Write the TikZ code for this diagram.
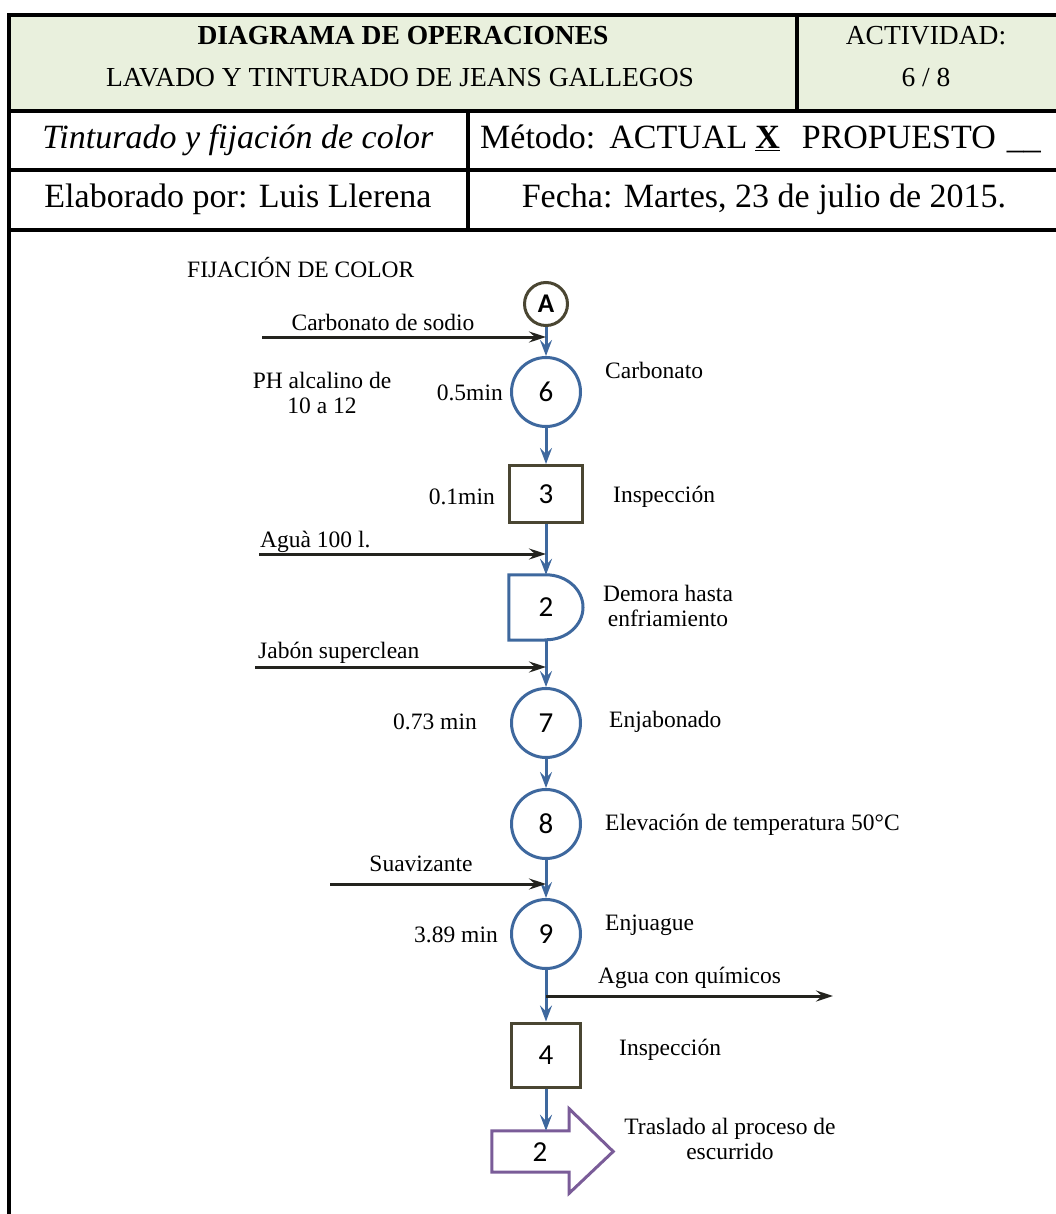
\documentclass[tikz,border=0pt]{standalone}
\usepackage{fontspec}
\setmainfont{Liberation Serif}
\newfontfamily\numfont{Carlito}
\usetikzlibrary{arrows.meta,calc}

\definecolor{flowblue}{RGB}{62,104,158}
\definecolor{olive}{RGB}{74,70,50}
\definecolor{inkdark}{RGB}{35,35,30}
\definecolor{movepurple}{RGB}{122,92,152}
\definecolor{headgreen}{RGB}{233,240,221}

\tikzset{
  tbl/.style={line width=4pt, black},
  hdrA/.style={font=\fontsize{27.5}{31}\selectfont, inner sep=0pt},
  hdrB/.style={font=\fontsize{34}{38}\selectfont, inner sep=0pt},
  lbl/.style={font=\fontsize{23.5}{25}\selectfont, inner sep=0pt, align=center},
  opcirc/.style={circle, draw=flowblue, line width=3pt, minimum size=69pt, inner sep=0pt,
                 font=\numfont\fontsize{29}{29}\selectfont},
  conncirc/.style={circle, draw=olive, line width=3pt, minimum size=43pt, inner sep=0pt,
                 font=\numfont\bfseries\fontsize{27}{27}\selectfont},
  inspbox/.style={rectangle, draw=olive, line width=3pt, inner sep=0pt,
                 font=\numfont\fontsize{29}{29}\selectfont},
  delaybox/.style={rectangle, minimum width=74pt, minimum height=65pt, inner sep=0pt,
                 font=\numfont\fontsize{29}{29}\selectfont},
  flow/.style={draw=flowblue, line width=3pt, -{Stealth[length=16pt,width=12pt,inset=6pt]}},
  feed/.style={draw=inkdark, line width=3pt, -{Stealth[length=17pt,width=11pt,inset=6pt]}},
}

\begin{document}
\begin{tikzpicture}[x=1pt,y=1pt]
\useasboundingbox (0,0) rectangle (1056,-1214);

% ---- header table ----
\fill[headgreen] (9,-15.5) rectangle (1056,-111);
\draw[tbl] (7,-15.5) -- (1056,-15.5);
\draw[tbl] (9,-14) -- (9,-1214);
\draw[tbl] (9,-111) -- (1056,-111);
\draw[tbl] (9,-170) -- (1056,-170);
\draw[tbl] (9,-230) -- (1056,-230);
\draw[tbl] (797,-15.5) -- (797,-111);
\draw[tbl] (468,-111) -- (468,-230);

\node[hdrA, anchor=base] (t1) at (403,-45) {\textbf{DIAGRAMA DE OPERACIONES}};
\node[hdrA, anchor=base] (t2h) at (400,-87) {LAVADO Y TINTURADO DE JEANS GALLEGOS};
\node[hdrA, anchor=base] (act) at (926,-45) {ACTIVIDAD:};
\node[hdrA, anchor=base] (actn) at (926,-87) {6 / 8};

\node[hdrB, anchor=base] (sub) at (238,-149) {\textit{Tinturado y fijación de color}};
\node[hdrB, anchor=base west] (met) at (480,-149)
  {Método:\hspace{14pt}ACTUAL\hspace{8pt}\underline{\textbf{X}}\hspace{22pt}PROPUESTO\hspace{11pt}\_\_};
\node[hdrB, anchor=base] (elab) at (238,-208) {Elaborado por: Luis Llerena};
\node[hdrB, anchor=base] (fecha) at (764,-208) {Fecha: Martes, 23 de julio de 2015.};

% ---- process chart ----
\node[lbl, anchor=west] (sec) at (187,-268) {FIJACIÓN DE COLOR};

\node[conncirc] (A) at (546,-304) {A};
\node[opcirc] (o6) at (546,-392) {6};
\node[inspbox, minimum width=73pt, minimum height=57pt] (i3) at (546,-494) {3};
\node[delaybox] (d2) at (546,-607.5) {2};
\node[opcirc] (o7) at (546,-723) {7};
\node[opcirc] (o8) at (546,-824) {8};
\node[opcirc] (o9) at (546,-934) {9};
\node[inspbox, minimum width=69pt, minimum height=64pt] (i4) at (546,-1055) {4};
\node[rectangle, minimum width=77pt, minimum height=41pt, inner sep=0pt] (t2) at (530.5,-1151.5) {};

% delay symbol outline
\draw[flowblue, line width=3pt, line join=miter]
  (d2.south) -- (d2.south west) -- (d2.north west) -- (d2.north)
  arc[start angle=90, end angle=-90, x radius=37pt, y radius=32.5pt] -- cycle;

% transport symbol outline
\draw[movepurple, line width=3pt, line join=miter]
  (t2.north west) -- (t2.north east) -- ++(0,22) -- ($(t2.east)+(44,0)$)
  -- ($(t2.south east)+(0,-21)$) -- (t2.south east) -- (t2.south west) -- cycle;
\node[inner sep=0pt, font=\numfont\fontsize{29}{29}\selectfont] (t2n) at (540,-1152) {2};

% main flow
\draw[flow] (A) -- (o6);
\draw[flow] (o6) -- (i3);
\draw[flow] (i3) -- (d2);
\draw[flow] (d2) -- (o7);
\draw[flow] (o7) -- (o8);
\draw[flow] (o8) -- (o9);
\draw[flow] (o9) -- (i4);
\draw[flow] (i4.south) -- (i4.south |- t2.north);

% material inputs and output
\coordinate (inCarb) at (262,-337);
\coordinate (inAgua) at (259,-554);
\coordinate (inJabon) at (255,-667);
\coordinate (inSuav) at (330,-884);
\coordinate (outAgua) at (833,-996);
\draw[feed] (inCarb) -- (inCarb -| A);
\draw[feed] (inAgua) -- (inAgua -| i3);
\draw[feed] (inJabon) -- (inJabon -| o7);
\draw[feed] (inSuav) -- (inSuav -| o9);
\draw[feed] (outAgua -| o9) -- (outAgua);

\node[lbl] (lCarb) at (383,-322) {Carbonato de sodio};
\node[lbl, anchor=west] (lAgua) at (260,-542) {Aguà 100 l.};
\node[lbl, anchor=west] (lJabon) at (258,-653) {Jabón superclean};
\node[lbl] (lSuav) at (421,-864) {Suavizante};
\node[lbl, anchor=west] (lOut) at (598,-978) {Agua con químicos};

% times and descriptions
\node[lbl] (ph) at (322,-393) {PH alcalino de\\10 a 12};
\node[lbl, anchor=east] (t6) at (503,-393) {0.5min};
\node[lbl, anchor=west] (d6) at (605,-370) {Carbonato};
\node[lbl, anchor=east] (t3) at (495,-497) {0.1min};
\node[lbl, anchor=west] (d3) at (613,-497) {Inspección};
\node[lbl] (dd2) at (668,-606) {Demora hasta\\enfriamiento};
\node[lbl, anchor=east] (t7) at (477,-722) {0.73 min};
\node[lbl, anchor=west] (d7) at (609,-722) {Enjabonado};
\node[lbl, anchor=west] (d8) at (605,-825) {Elevación de temperatura 50°C};
\node[lbl, anchor=east] (t9) at (498,-935) {3.89 min};
\node[lbl, anchor=west] (d9) at (605,-925) {Enjuague};
\node[lbl, anchor=west] (d4) at (619,-1050) {Inspección};
\node[lbl] (dt2) at (730,-1139) {Traslado al proceso de\\escurrido};
\end{tikzpicture}
\end{document}
